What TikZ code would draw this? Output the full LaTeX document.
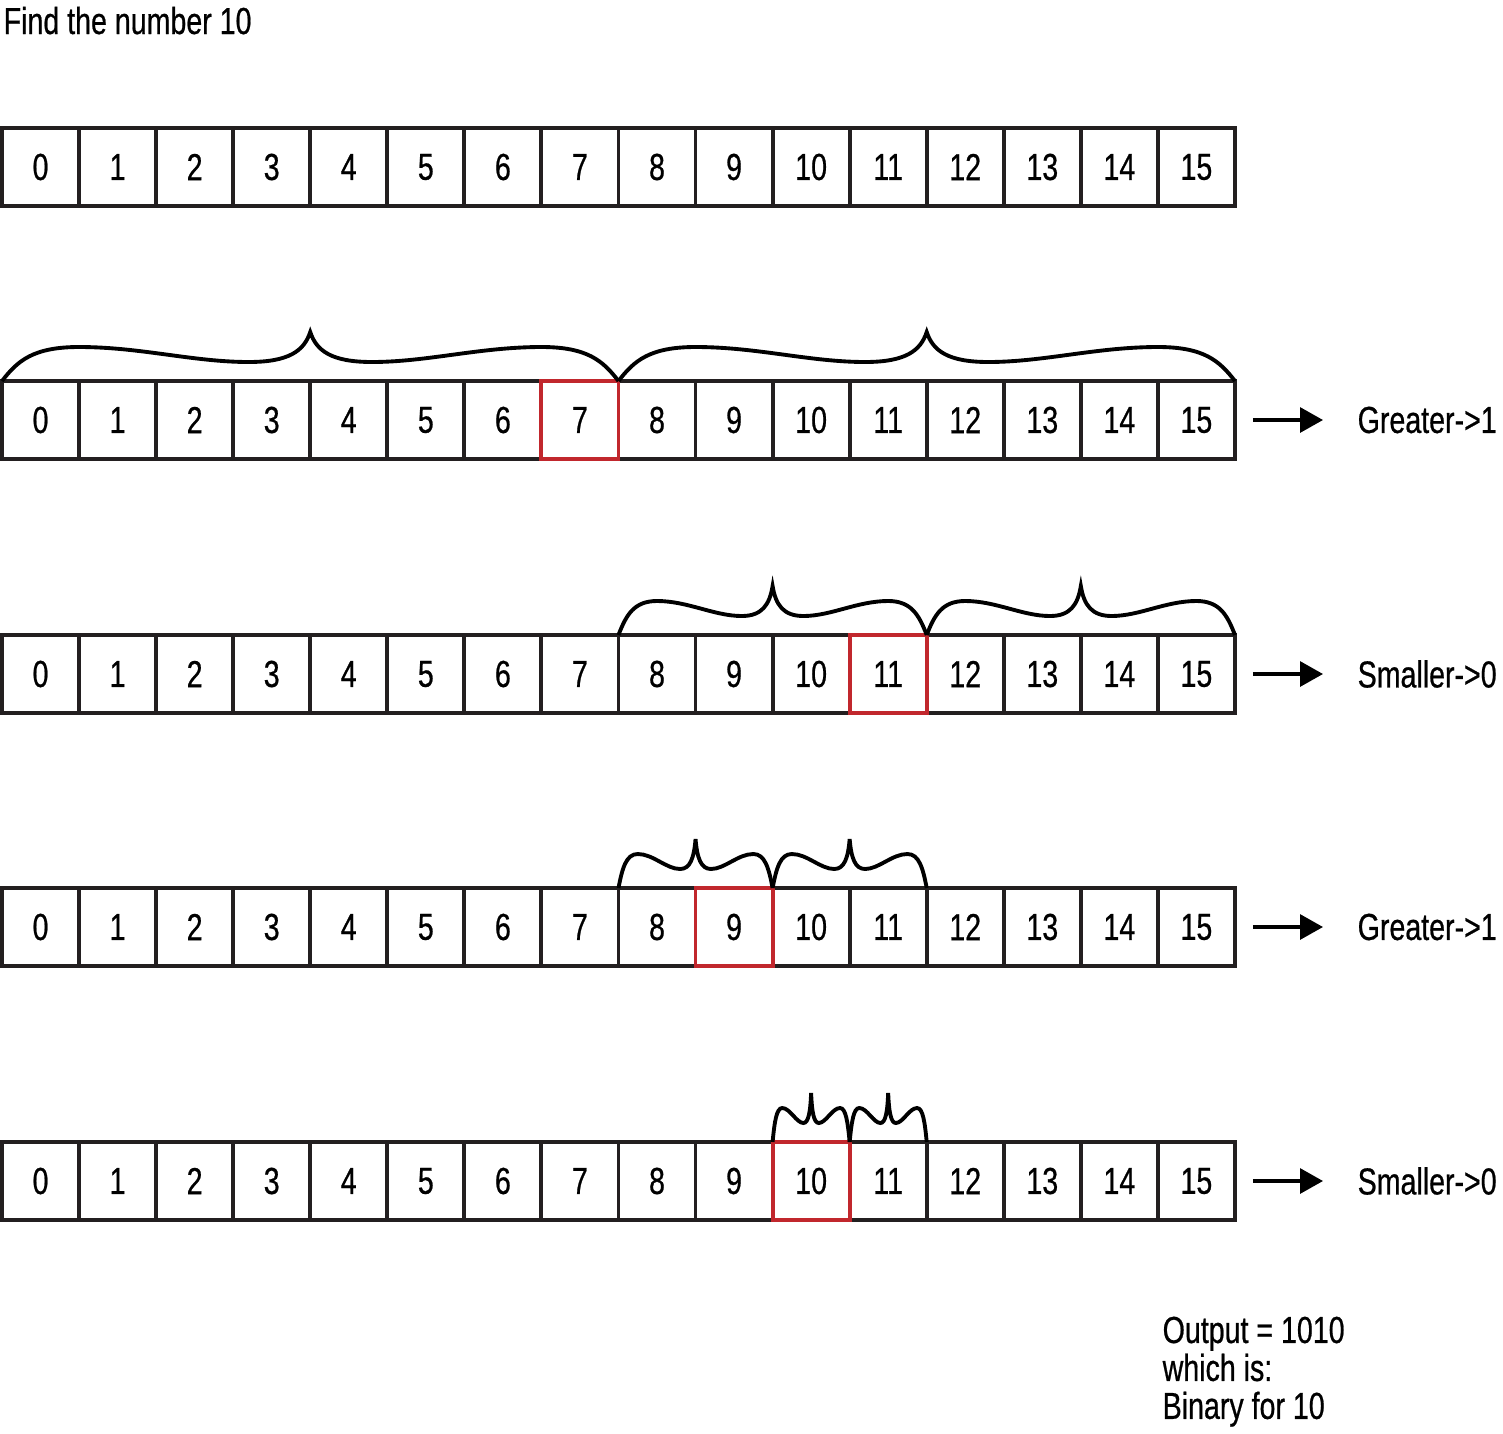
\documentclass[tikz,border=0pt]{standalone}
\usepackage{fontspec}
\setmainfont{Liberation Sans}[FakeStretch=0.76,FakeBold=0.6]
\usepackage{tikz}
\usetikzlibrary{arrows.meta, positioning}
\definecolor{linegray}{HTML}{231F20}
\definecolor{hlred}{HTML}{C1272D}
\tikzstyle{cell}=[shape=rectangle,draw=linegray,line width=1.1pt,minimum width=0.7706cm,minimum height=0.78cm,inner sep=0pt,outer sep=0pt]
\tikzstyle{hlcell}=[draw=hlred,line width=1.1pt]
\tikzstyle{curly}=[draw=black,line width=1.1pt]
\tikzstyle{mainarrow}=[-{Triangle[length=0.23cm,width=0.25cm]},line width=0.9pt,shorten <=0.18cm,shorten >=0.34cm]
\tikzstyle{result}=[anchor=west,inner sep=0pt]
% brace over two halves, #2 = half width
\newcommand{\curlybrace}[2]{%
  \draw[curly,shift={(#1)},xscale=#2] (0,0)
    .. controls (0.05,0.2) and (0.1,0.34) .. (0.25,0.34)
    .. controls (0.45,0.34) and (0.62,0.19) .. (0.8,0.19)
    .. controls (0.93,0.19) and (0.98,0.3) .. (1,0.49)
    .. controls (1.02,0.3) and (1.07,0.19) .. (1.2,0.19)
    .. controls (1.38,0.19) and (1.55,0.34) .. (1.75,0.34)
    .. controls (1.9,0.34) and (1.95,0.2) .. (2,0);}

\begin{document}
\begin{tikzpicture}[font=\fontsize{10.7}{12}\selectfont]
\useasboundingbox (0,0) rectangle (15.03,-14.34);

\node[anchor=base west,inner sep=0pt] (title) at (0.03,-0.34) {Find the number 10};

% rows of cells
\foreach \r/\y in {1/-1.67,2/-4.20,3/-6.74,4/-9.27,5/-11.81}
  \foreach \i in {0,...,15}
    \node[cell] (r\r_\i) at ({0.02+0.7706*(\i+0.5)},\y) {\i};

% middle cells
\draw[hlcell] (r2_7.north west) rectangle (r2_7.south east);
\draw[hlcell] (r3_11.north west) rectangle (r3_11.south east);
\draw[hlcell] (r4_9.north west) rectangle (r4_9.south east);
\draw[hlcell] (r5_10.north west) rectangle (r5_10.south east);

% braces
\curlybrace{r2_0.north west}{3.0824}
\curlybrace{r2_8.north west}{3.0824}
\curlybrace{r3_8.north west}{1.5412}
\curlybrace{r3_12.north west}{1.5412}
\curlybrace{r4_8.north west}{0.7706}
\curlybrace{r4_10.north west}{0.7706}
\curlybrace{r5_10.north west}{0.3853}
\curlybrace{r5_11.north west}{0.3853}

% results
\node[result] (lab2) at (13.57,-4.20) {Greater->1};
\node[result] (lab3) at (13.57,-6.74) {Smaller->0};
\node[result] (lab4) at (13.57,-9.27) {Greater->1};
\node[result] (lab5) at (13.57,-11.81) {Smaller->0};
\draw[mainarrow] (r2_15.east) -- (lab2.west);
\draw[mainarrow] (r3_15.east) -- (lab3.west);
\draw[mainarrow] (r4_15.east) -- (lab4.west);
\draw[mainarrow] (r5_15.east) -- (lab5.west);

\node[anchor=north west,align=left,inner sep=0pt,font=\fontsize{10.7}{10.8}\selectfont] (output) at (11.62,-13.16) {Output = 1010\\which is:\\Binary for 10};

\end{tikzpicture}
\end{document}
